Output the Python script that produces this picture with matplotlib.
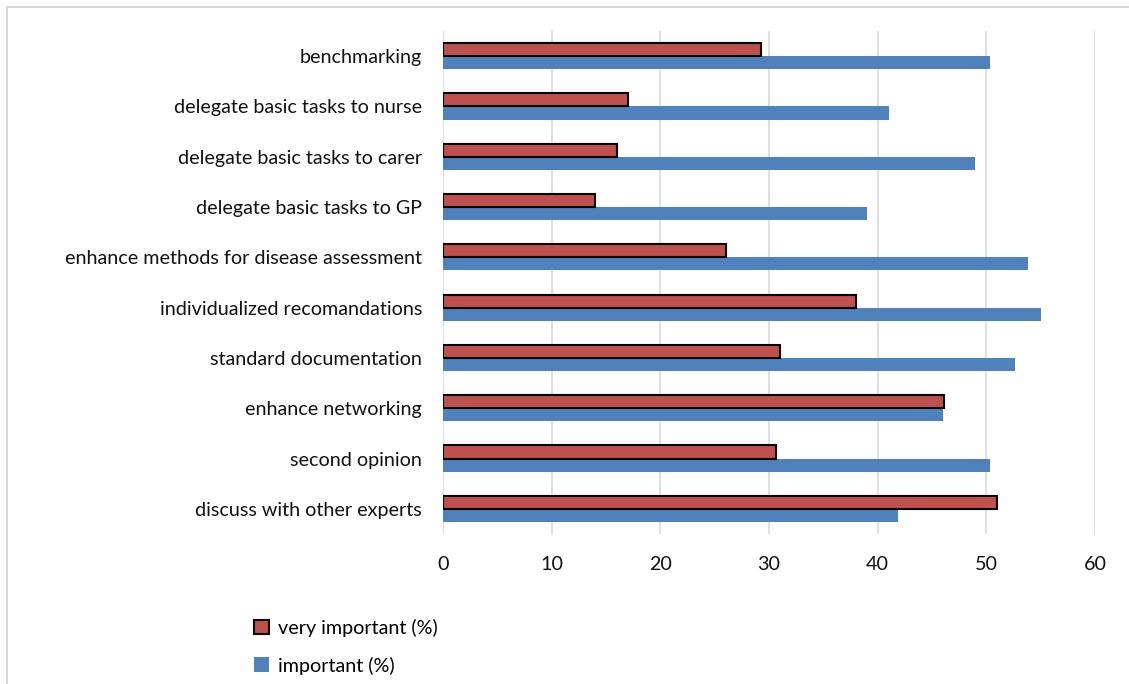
import numpy as np
import matplotlib.pyplot as plt
from matplotlib.patches import Rectangle, Patch

plt.rcParams['font.family'] = ['Lato', 'DejaVu Sans']

categories = [
    'discuss with other experts',
    'second opinion',
    'enhance networking',
    'standard documentation',
    'individualized recomandations',
    'enhance methods for disease assessment',
    'delegate basic tasks to GP',
    'delegate basic tasks to carer',
    'delegate basic tasks to nurse',
    'benchmarking',
]
very_important = [51.0, 30.6, 46.1, 31.0, 38.0, 26.0, 14.0, 16.0, 17.0, 29.3]
important = [41.9, 50.3, 46.0, 52.6, 55.0, 53.8, 39.0, 49.0, 41.0, 50.3]
x_ticks = [0, 10, 20, 30, 40, 50, 60]

red = '#c0504d'
blue = '#4f81bd'

fig = plt.figure(figsize=(11.29, 6.84), dpi=100)
ax = fig.add_axes([443 / 1129, 1 - 534 / 684, (1095 - 443) / 1129, (534 - 31) / 684])

y = np.arange(len(categories))
h = 0.26
ax.barh(y - h / 2, important, height=h, color=blue, zorder=2)
ax.barh(y + h / 2, very_important, height=h, color=red, edgecolor='black',
        linewidth=1.5, zorder=3)

ax.set_ylim(-0.5, len(categories) - 0.5)
ax.set_xlim(0, 60)
ax.set_xticks(x_ticks)
ax.set_yticks(y)
ax.set_yticklabels(categories, fontsize=14.2, color='#111111')
ax.tick_params(axis='x', labelsize=14.2, length=0, pad=16, colors='#111111')
ax.tick_params(axis='y', length=0, pad=15)
ax.xaxis.grid(True, color='#d9d9d9', linewidth=1.2, zorder=0)
ax.set_axisbelow(True)
for s in ax.spines.values():
    s.set_visible(False)

# legend stacked vertically below the plot
fig.legend(handles=[Patch(facecolor=red, edgecolor='black', linewidth=1.5),
                    Patch(facecolor=blue)],
           labels=['very important (%)', 'important (%)'],
           loc='upper left', bbox_to_anchor=(236 / 1129, 1 - 601 / 684),
           frameon=False, fontsize=14.2, handlelength=0.75, handleheight=0.75,
           handletextpad=0.5, labelspacing=1.0)

# outer chart border
fig.patches.append(Rectangle((7 / 1129, -0.1), 1.2, 1 - 7 / 684 + 0.1,
                             transform=fig.transFigure, fill=False,
                             edgecolor='#d9d9d9', linewidth=1.5))

fig.savefig('out.png', dpi=100)
